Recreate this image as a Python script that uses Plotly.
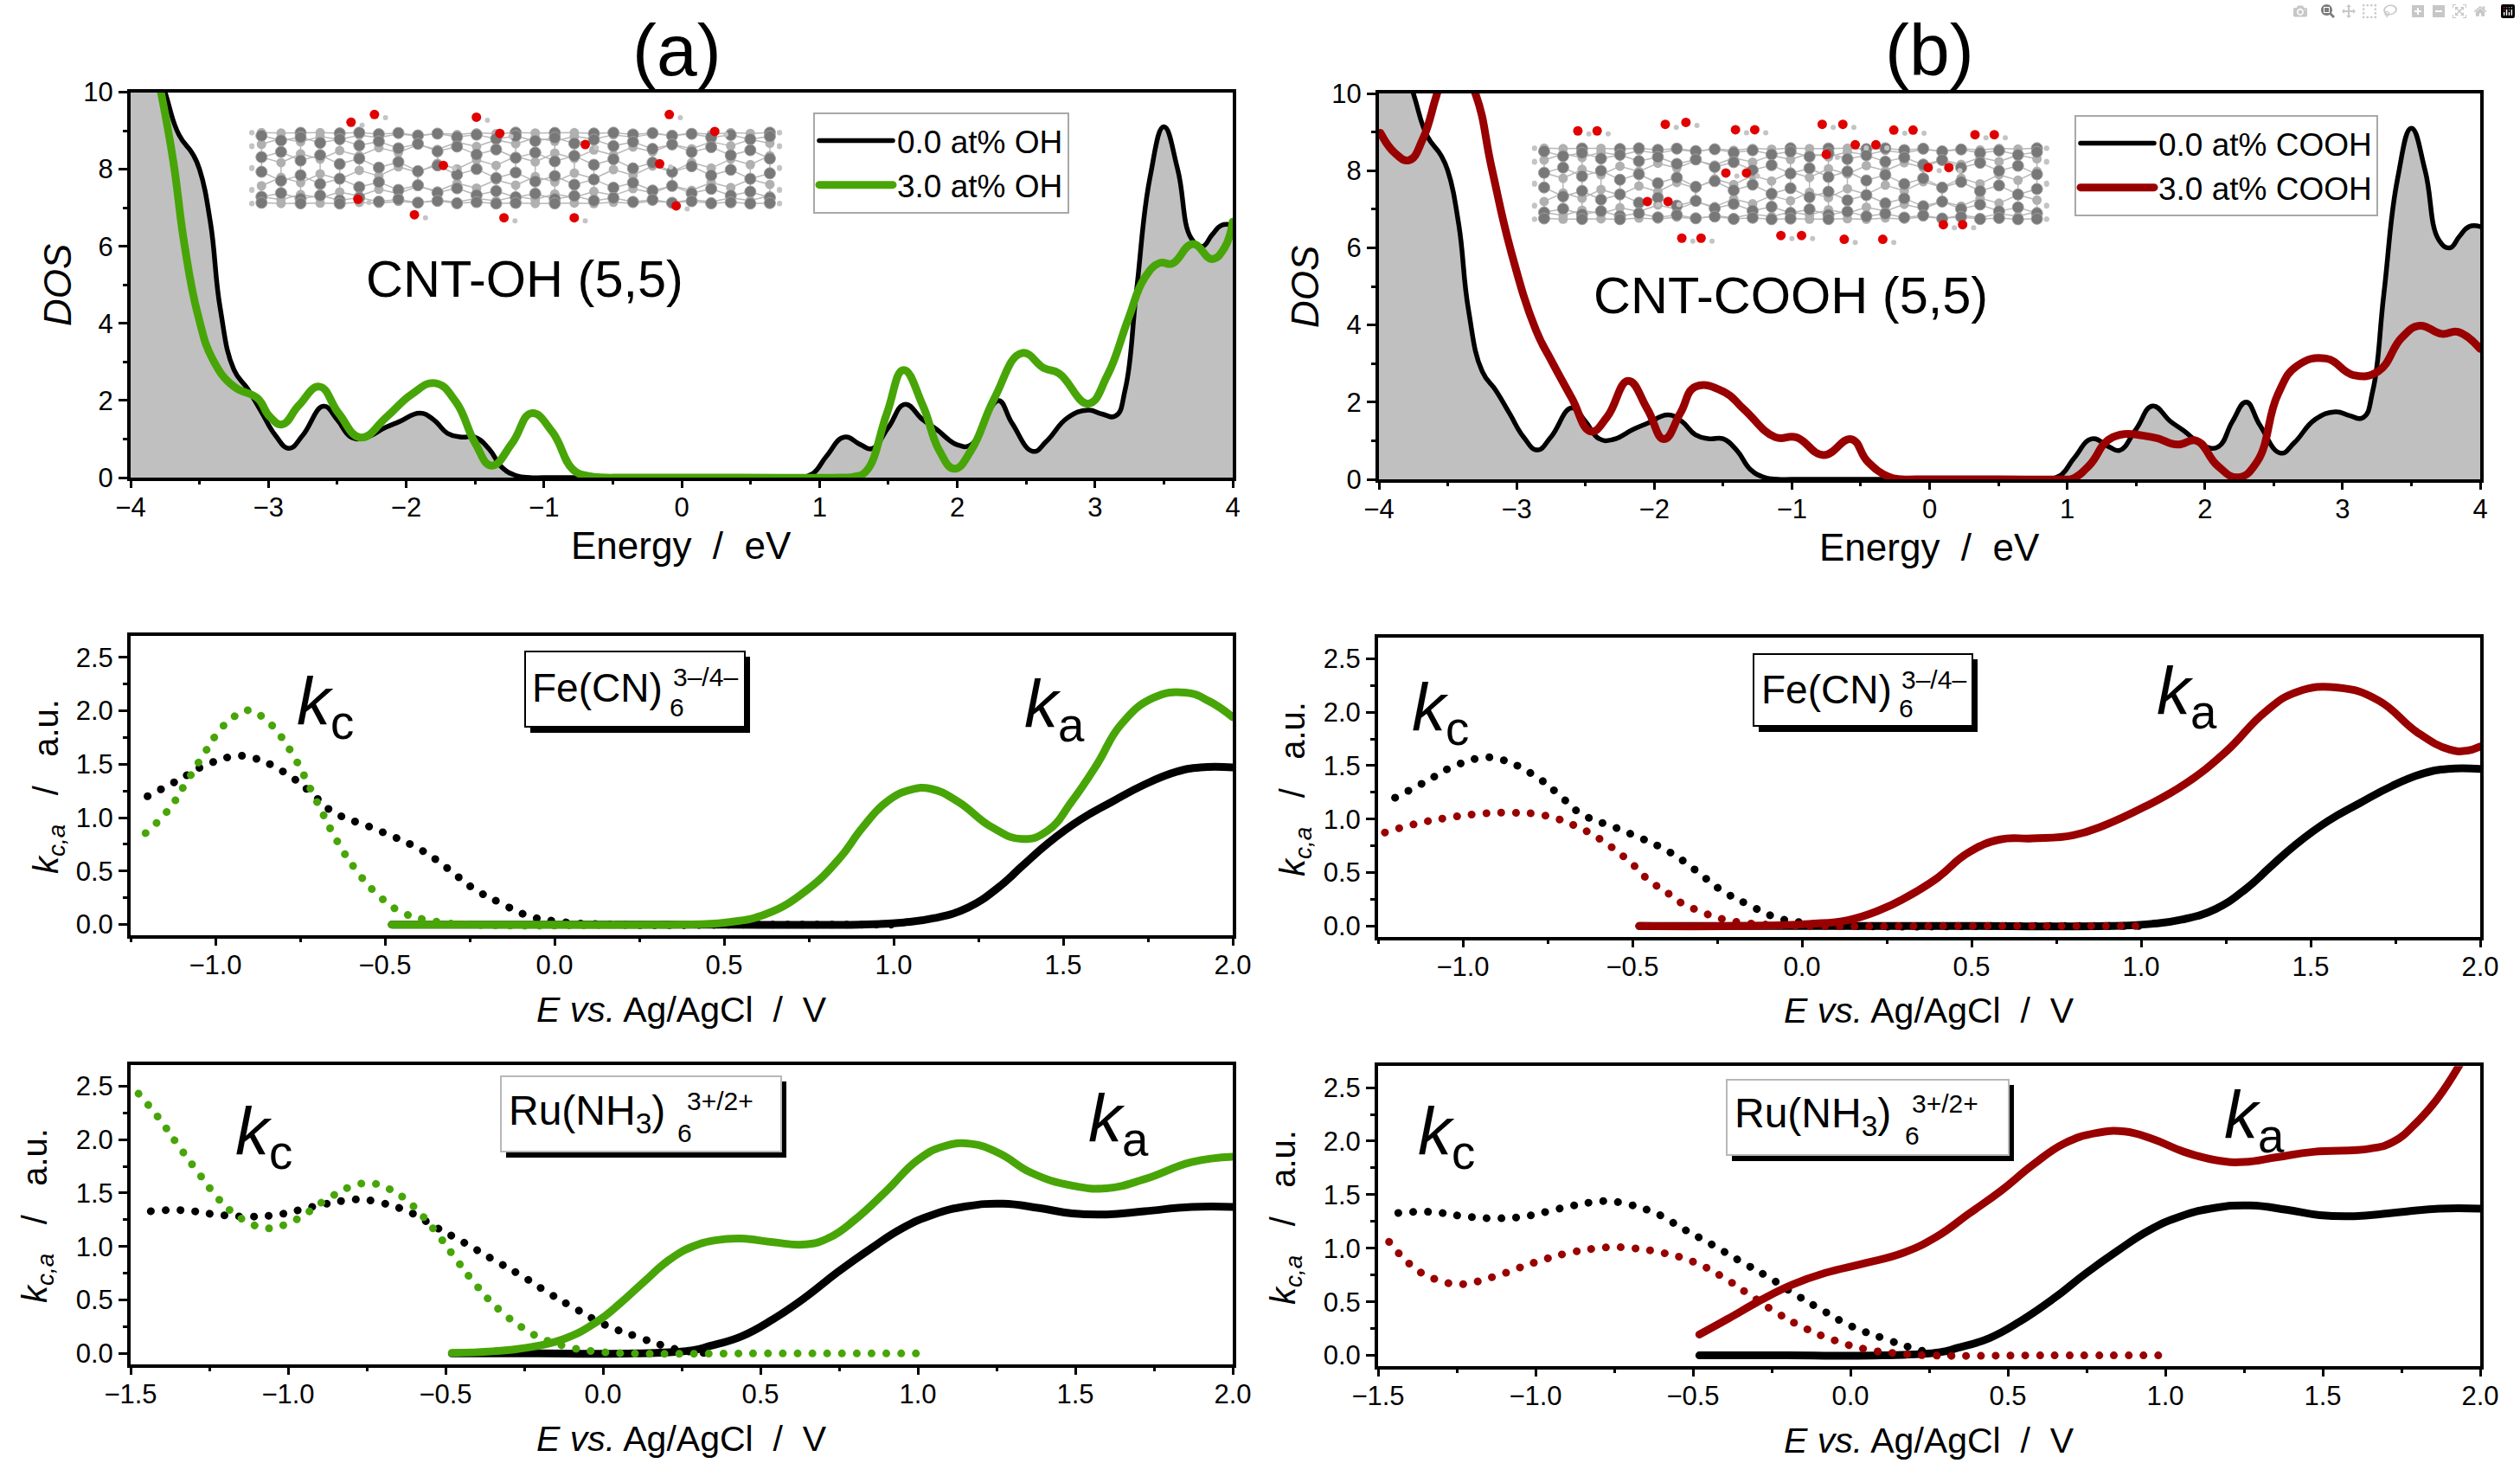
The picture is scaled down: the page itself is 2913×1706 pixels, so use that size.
import numpy as np
import plotly.graph_objects as go
from plotly.subplots import make_subplots

W, H = 2913, 1706
FONT = "Liberation Sans"
GREEN = "#48a508"
RED = "#990000"
GRAY = "#c0c0c0"

# DOS of the pristine tube, same in both columns
dos_e = [-4.0, -3.75, -3.65, -3.55, -3.5, -3.42, -3.35, -3.25, -3.15, -3.05, -2.95, -2.85, -2.75, -2.6, -2.5, -2.4, -2.3, -2.15, -2.05, -1.9, -1.8, -1.7, -1.6, -1.5, -1.4, -1.3, -1.2, -1.1, -1.0, -0.5, 0.2, 0.75, 0.85, 0.95, 1.05, 1.18, 1.3, 1.38, 1.5, 1.62, 1.75, 1.85, 2.0, 2.1, 2.2, 2.3, 2.4, 2.55, 2.65, 2.8, 2.95, 3.05, 3.15, 3.22, 3.3, 3.4, 3.5, 3.6, 3.7, 3.78, 3.85, 3.92, 4.0]
dos_black = [13.0, 10.0, 8.9, 8.4, 8.0, 6.6, 4.4, 2.8, 2.3, 1.7, 1.1, 0.76, 1.1, 1.85, 1.5, 1.05, 1.03, 1.3, 1.45, 1.67, 1.5, 1.15, 1.05, 1.05, 0.75, 0.25, 0.05, 0.0, 0.0, 0.0, 0.0, 0.0, 0.0, 0.1, 0.55, 1.05, 0.85, 0.75, 1.3, 1.9, 1.5, 1.25, 0.85, 0.85, 1.5, 2.0, 1.4, 0.68, 0.95, 1.55, 1.75, 1.65, 1.6, 2.3, 4.8, 7.8, 9.1, 8.0, 6.2, 6.0, 6.3, 6.55, 6.55]

dos_oh_e = [-3.78, -3.69, -3.61, -3.51, -3.4, -3.25, -3.08, -2.99, -2.9, -2.78, -2.63, -2.49, -2.33, -2.14, -1.96, -1.79, -1.64, -1.5, -1.38, -1.23, -1.09, -0.94, -0.79, -0.68, -0.55, -0.44, 0.4, 1.15, 1.25, 1.34, 1.49, 1.61, 1.75, 1.87, 1.98, 2.1, 2.27, 2.47, 2.63, 2.74, 2.95, 3.09, 3.24, 3.36, 3.47, 3.56, 3.71, 3.85, 3.94, 4.0]
dos_oh = [10.0, 8.2, 6.06, 4.2, 3.04, 2.36, 2.06, 1.58, 1.38, 1.87, 2.36, 1.67, 1.04, 1.58, 2.16, 2.45, 1.97, 0.9, 0.31, 0.9, 1.67, 1.19, 0.21, 0.04, 0.0, 0.0, 0.0, 0.0, 0.02, 0.17, 1.67, 2.79, 1.87, 0.7, 0.23, 0.7, 2.06, 3.23, 2.84, 2.7, 1.92, 2.65, 4.1, 5.18, 5.57, 5.55, 6.06, 5.67, 5.96, 6.64]

dos_cooh_e = [-3.99, -3.88, -3.78, -3.68, -3.59, -3.55, -3.45, -3.3, -3.18, -3.04, -2.86, -2.75, -2.6, -2.46, -2.34, -2.19, -2.05, -1.93, -1.81, -1.7, -1.49, -1.35, -1.12, -0.97, -0.77, -0.57, -0.45, -0.3, -0.2, -0.1, 0.5, 0.95, 1.04, 1.16, 1.33, 1.62, 1.8, 1.94, 2.09, 2.24, 2.38, 2.53, 2.67, 2.88, 3.08, 3.26, 3.43, 3.56, 3.72, 3.84, 4.0]
dos_cooh = [8.98, 8.44, 8.27, 8.83, 9.85, 10.3, 11.0, 10.0, 8.05, 5.9, 3.87, 3.09, 2.11, 1.24, 1.63, 2.55, 1.82, 1.04, 1.72, 2.4, 2.26, 1.82, 1.09, 1.09, 0.63, 1.04, 0.46, 0.07, 0.0, 0.0, 0.0, 0.0, 0.02, 0.36, 1.09, 1.09, 0.9, 1.0, 0.36, 0.05, 0.46, 2.2, 2.94, 3.13, 2.7, 2.8, 3.67, 3.98, 3.77, 3.82, 3.38]

# Fe(CN)6 row
fe_kc_black_v = [-1.2, -1.11, -1.03, -0.94, -0.89, -0.8, -0.72, -0.656, -0.526, -0.395, -0.317, -0.24, -0.158, -0.075, 0.008, 0.17, 0.6, 1.03]
fe_kc_black = [1.2, 1.35, 1.49, 1.575, 1.56, 1.43, 1.24, 1.06, 0.89, 0.7, 0.53, 0.34, 0.2, 0.08, 0.03, 0.0, 0.0, 0.0]
fe_ka_black_v = [-0.48, 0.1, 0.5, 0.9, 1.03, 1.12, 1.22, 1.31, 1.38, 1.455, 1.55, 1.645, 1.74, 1.835, 1.905, 2.0]
fe_ka_black = [0.0, 0.0, 0.0, 0.0, 0.02, 0.06, 0.16, 0.35, 0.55, 0.76, 0.98, 1.15, 1.31, 1.43, 1.47, 1.47]

fe_kc_oh_v = [-1.206, -1.138, -1.088, -1.036, -0.983, -0.945, -0.905, -0.858, -0.822, -0.77, -0.704, -0.64, -0.585, -0.523, -0.45, -0.36, -0.25, 0.2]
fe_kc_oh = [0.855, 1.075, 1.32, 1.585, 1.835, 1.945, 2.005, 1.935, 1.82, 1.58, 1.17, 0.775, 0.51, 0.285, 0.115, 0.035, 0.0, 0.0]
fe_ka_oh_v = [-0.48, 0.0, 0.35, 0.506, 0.625, 0.743, 0.838, 0.909, 0.98, 1.05, 1.11, 1.19, 1.29, 1.38, 1.455, 1.525, 1.6, 1.67, 1.765, 1.86, 1.93, 2.0]
fe_ka_oh = [0.0, 0.0, 0.0, 0.02, 0.1, 0.32, 0.61, 0.91, 1.15, 1.26, 1.27, 1.15, 0.91, 0.8, 0.88, 1.15, 1.5, 1.87, 2.12, 2.17, 2.09, 1.94]

fe_kc_cooh_v = [-1.23, -1.14, -1.05, -0.95, -0.86, -0.76, -0.67, -0.62, -0.58, -0.54, -0.5, -0.47, -0.435, -0.39, -0.355, -0.31, -0.265, -0.22, -0.17, -0.08, 0.06, 0.5, 1.02]
fe_kc_cooh = [0.875, 0.955, 1.01, 1.05, 1.06, 1.035, 0.94, 0.86, 0.78, 0.685, 0.58, 0.48, 0.39, 0.295, 0.215, 0.15, 0.095, 0.055, 0.03, 0.01, 0.0, 0.0, 0.0]
fe_ka_cooh_v = [-0.48, -0.2, 0.02, 0.135, 0.23, 0.3, 0.395, 0.49, 0.585, 0.68, 0.8, 0.89, 1.01, 1.13, 1.25, 1.365, 1.46, 1.58, 1.7, 1.815, 1.91, 1.96, 2.0]
fe_ka_cooh = [0.0, 0.0, 0.02, 0.055, 0.15, 0.255, 0.44, 0.685, 0.81, 0.82, 0.85, 0.94, 1.115, 1.33, 1.63, 2.0, 2.19, 2.23, 2.11, 1.81, 1.65, 1.64, 1.68]

# Ru(NH3)6 row
ru_kc_black_v = [-1.436, -1.334, -1.23, -1.13, -1.03, -0.925, -0.82, -0.77, -0.72, -0.62, -0.57, -0.53, -0.44, -0.35, -0.26, -0.175, -0.085, 0.005, 0.105, 0.195, 0.25, 0.335]
ru_kc_black = [1.33, 1.34, 1.3, 1.28, 1.3, 1.37, 1.43, 1.44, 1.42, 1.33, 1.25, 1.18, 1.035, 0.88, 0.73, 0.57, 0.415, 0.27, 0.16, 0.07, 0.03, 0.0]
ru_ka_black_v = [-0.48, -0.2, 0.1, 0.285, 0.34, 0.44, 0.54, 0.645, 0.745, 0.85, 0.95, 1.05, 1.155, 1.27, 1.385, 1.49, 1.6, 1.72, 1.87, 2.0]
ru_ka_black = [0.0, 0.0, 0.0, 0.03, 0.07, 0.16, 0.32, 0.53, 0.76, 0.98, 1.17, 1.3, 1.376, 1.4, 1.36, 1.31, 1.3, 1.33, 1.37, 1.37]

ru_kc_oh_v = [-1.475, -1.41, -1.35, -1.29, -1.225, -1.185, -1.145, -1.105, -1.06, -1.005, -0.955, -0.87, -0.78, -0.73, -0.68, -0.63, -0.59, -0.525, -0.465, -0.4, -0.33, -0.25, -0.205, -0.11, -0.01, 0.09, 0.5, 1.02]
ru_kc_oh = [2.43, 2.2, 1.95, 1.71, 1.46, 1.34, 1.255, 1.196, 1.17, 1.21, 1.285, 1.455, 1.58, 1.59, 1.54, 1.45, 1.34, 1.115, 0.875, 0.63, 0.41, 0.23, 0.155, 0.06, 0.015, 0.0, 0.0, 0.0]
ru_ka_oh_v = [-0.48, -0.35, -0.25, -0.125, -0.02, 0.055, 0.13, 0.21, 0.285, 0.36, 0.44, 0.54, 0.645, 0.72, 0.8, 0.9, 1.0, 1.08, 1.17, 1.26, 1.36, 1.49, 1.6, 1.72, 1.87, 2.0]
ru_ka_oh = [0.005, 0.02, 0.05, 0.135, 0.295, 0.47, 0.67, 0.875, 1.0, 1.06, 1.075, 1.04, 1.02, 1.085, 1.25, 1.52, 1.81, 1.935, 1.96, 1.87, 1.69, 1.57, 1.545, 1.63, 1.79, 1.84]

ru_kc_cooh_v = [-1.465, -1.43, -1.39, -1.35, -1.305, -1.255, -1.2, -1.15, -1.105, -1.055, -1.005, -0.905, -0.805, -0.755, -0.705, -0.6, -0.5, -0.41, -0.32, -0.235, -0.145, -0.05, 0.045, 0.145, 0.25, 0.6, 1.02]
ru_kc_cooh = [1.06, 0.94, 0.83, 0.75, 0.7, 0.665, 0.68, 0.72, 0.76, 0.815, 0.865, 0.95, 1.0, 1.01, 1.005, 0.96, 0.875, 0.74, 0.565, 0.4, 0.255, 0.14, 0.06, 0.02, 0.0, 0.0, 0.0]
ru_ka_cooh_v = [-0.48, -0.39, -0.285, -0.185, -0.08, 0.045, 0.17, 0.275, 0.375, 0.48, 0.58, 0.68, 0.78, 0.87, 0.96, 1.06, 1.165, 1.25, 1.355, 1.47, 1.65, 1.725, 1.8, 1.865, 1.93, 1.955]
ru_ka_cooh = [0.195, 0.34, 0.515, 0.66, 0.77, 0.86, 0.96, 1.11, 1.32, 1.54, 1.78, 1.98, 2.075, 2.09, 2.02, 1.9, 1.82, 1.805, 1.85, 1.9, 1.93, 1.995, 2.18, 2.4, 2.69, 2.83]

# oxygen atoms of the two tube sketches, in the units of the DOS axes
oh_red_x = [-2.40, -2.23, -1.49, -0.09, -1.32, 0.24, -0.70, -1.73, -0.16, -2.35, -1.94, -1.29, -0.78, -0.04]
oh_red_y = [9.22, 9.42, 9.35, 9.42, 8.93, 8.98, 8.64, 8.10, 8.14, 7.22, 6.82, 6.74, 6.74, 7.05]
cooh_red_x = [-2.555, -2.415, -1.92, -1.77, -1.41, -1.27, -0.78, -0.63, -0.26, -0.12, 0.33, 0.47, -0.54, -0.39, -0.75, -1.48, -1.33, -0.01, 0.14, -2.05, -1.90, 0.10, 0.24, -1.80, -1.66, -1.08, -0.93, -0.62, -0.34]
cooh_red_y = [9.03, 9.03, 9.2, 9.25, 9.06, 9.06, 9.2, 9.2, 9.05, 9.05, 8.93, 8.93, 8.67, 8.67, 8.42, 7.94, 7.94, 8.08, 8.08, 7.2, 7.2, 6.6, 6.6, 6.25, 6.25, 6.32, 6.32, 6.22, 6.22]


def px(x):
    return x / W


def py(y):
    return 1 - y / H


# panel boxes in pixels: left, right, top, bottom
panels = {
    (1, 1): (151, 1425, 106.5, 552),
    (1, 2): (1594, 2867, 108, 554),
    (2, 1): (151, 1425, 735, 1081),
    (2, 2): (1593, 2867, 736.7, 1082.7),
    (3, 1): (151, 1425, 1230.7, 1576.7),
    (3, 2): (1593, 2867, 1232.3, 1579),
}

fig = make_subplots(rows=3, cols=2)


def curve(x, y, color, row, col, width=9, dotted=False, name=None, legend=None):
    line = dict(color=color, width=width, shape="spline", smoothing=1.3)
    if dotted:
        line["dash"] = "0.1px,17px"
    fig.add_trace(go.Scatter(x=x, y=y, mode="lines", line=line, name=name,
                             showlegend=name is not None, legend=legend), row=row, col=col)


def tube(x0, x1, yc, yr, red_x, red_y, col):
    # rough (5,5) nanotube with a slight twist: two rings per cell, atoms and bonds
    n_col = 27
    zs = np.linspace(x0, x1, n_col)

    def atom(k, j, s):
        theta = 2 * np.pi * (j + s / 4.26) / 5 + 0.05 * k
        return zs[k], yc + yr * np.cos(theta), np.sin(theta)

    bond_x, bond_y, back_x, back_y, front_x, front_y = [], [], [], [], [], []
    for k in range(n_col):
        ring = [0.0, 1.42] if k % 2 == 0 else [2.13, 3.55]
        for j in range(5):
            a = atom(k, j, ring[0])
            b = atom(k, j, ring[1])
            bond_x += [a[0], b[0], None]
            bond_y += [a[1], b[1], None]
            if k + 1 < n_col:
                if k % 2 == 0:
                    pairs = [(b, atom(k + 1, j, 2.13)), (a, atom(k + 1, j - 1, 3.55))]
                else:
                    pairs = [(b, atom(k + 1, j + 1, 0.0)), (a, atom(k + 1, j, 1.42))]
                for p, q in pairs:
                    bond_x += [p[0], q[0], None]
                    bond_y += [p[1], q[1], None]
            for p in (a, b):
                if p[2] > 0:
                    front_x.append(p[0])
                    front_y.append(p[1])
                else:
                    back_x.append(p[0])
                    back_y.append(p[1])
    # small hydrogens on the open ends and next to the oxygens
    h_x, h_y = [], []
    for j in range(10):
        y_h = yc + 1.05 * yr * np.cos(2 * np.pi * j / 10 + 0.3)
        h_x += [x0 - 0.07, x1 + 0.07]
        h_y += [y_h, y_h]
    h_x += [x + 0.08 for x in red_x]
    h_y += [y - 0.08 for y in red_y]
    fig.add_trace(go.Scatter(x=bond_x, y=bond_y, mode="lines", showlegend=False,
                             line=dict(color="#b8b8b8", width=1.5)), row=1, col=col)
    fig.add_trace(go.Scatter(x=back_x, y=back_y, mode="markers", showlegend=False,
                             marker=dict(color="#b0b0b0", size=11)), row=1, col=col)
    fig.add_trace(go.Scatter(x=front_x, y=front_y, mode="markers", showlegend=False,
                             marker=dict(color="#787878", size=13, line=dict(color="#a0a0a0", width=1))), row=1, col=col)
    fig.add_trace(go.Scatter(x=h_x, y=h_y, mode="markers", showlegend=False,
                             marker=dict(color="#c4c4c4", size=6)), row=1, col=col)
    fig.add_trace(go.Scatter(x=red_x, y=red_y, mode="markers", showlegend=False,
                             marker=dict(color="#e00000", size=11)), row=1, col=col)


# DOS panels
for col in (1, 2):
    fig.add_trace(go.Scatter(x=dos_e, y=dos_black, mode="lines", fill="tozeroy", fillcolor=GRAY, showlegend=False,
                             line=dict(color=GRAY, width=0, shape="spline", smoothing=1.3)), row=1, col=col)

tube(-3.05, 0.64, 8.03, 0.92, oh_red_x, oh_red_y, 1)
tube(-2.8, 0.78, 7.66, 0.92, cooh_red_x, cooh_red_y, 2)

curve(dos_e, dos_black, "black", 1, 1, width=5.5, name="0.0 at% OH", legend="legend")
curve(dos_oh_e, dos_oh, GREEN, 1, 1, width=9, name="3.0 at% OH", legend="legend")
curve(dos_e, dos_black, "black", 1, 2, width=5.5, name="0.0 at% COOH", legend="legend2")
curve(dos_cooh_e, dos_cooh, RED, 1, 2, width=9, name="3.0 at% COOH", legend="legend2")

# k panels
rows = [
    (2, 1, GREEN, fe_kc_black_v, fe_kc_black, fe_ka_black_v, fe_ka_black, fe_kc_oh_v, fe_kc_oh, fe_ka_oh_v, fe_ka_oh),
    (2, 2, RED, fe_kc_black_v, fe_kc_black, fe_ka_black_v, fe_ka_black, fe_kc_cooh_v, fe_kc_cooh, fe_ka_cooh_v, fe_ka_cooh),
    (3, 1, GREEN, ru_kc_black_v, ru_kc_black, ru_ka_black_v, ru_ka_black, ru_kc_oh_v, ru_kc_oh, ru_ka_oh_v, ru_ka_oh),
    (3, 2, RED, ru_kc_black_v, ru_kc_black, ru_ka_black_v, ru_ka_black, ru_kc_cooh_v, ru_kc_cooh, ru_ka_cooh_v, ru_ka_cooh),
]
for r, c, color, kc0_v, kc0, ka0_v, ka0, kc_v, kc, ka_v, ka in rows:
    curve(ka0_v, ka0, "black", r, c)
    curve(kc0_v, kc0, "black", r, c, dotted=True)
    curve(ka_v, ka, color, r, c)
    curve(kc_v, kc, color, r, c, dotted=True)

tick_font = dict(family=FONT, size=31, color="black")
axis_style = dict(showline=True, mirror=True, linecolor="black", linewidth=4, showgrid=False, zeroline=False,
                  ticks="outside", tickwidth=3, tickcolor="black", tickfont=tick_font)

for (r, c), (l, rr, t, b) in panels.items():
    if r == 1:
        xr, xd, yr, yd = [-4, 4], 1, [0, 10], 2
    elif r == 2:
        xr, xd, yr, yd = [-1.25, 2], 0.5, [-0.1, 2.7], 0.5
    else:
        xr, xd, yr, yd = [-1.5, 2], 0.5, [-0.1, 2.7], 0.5
    fig.update_xaxes(domain=[px(l), px(rr)], range=xr, tick0=0, dtick=xd, tickformat="d" if r == 1 else ".1f",
                     ticklen=8, ticklabelstandoff=-4,
                     minor=dict(ticks="outside", ticklen=4, tickwidth=3, tickcolor="black", tick0=0, dtick=xd / 2),
                     row=r, col=c, **axis_style)
    fig.update_yaxes(domain=[py(b), py(t)], range=yr, tick0=0, dtick=yd, tickformat="d" if r == 1 else ".1f",
                     ticklen=10,
                     minor=dict(ticks="outside", ticklen=5, tickwidth=3, tickcolor="black", tick0=0, dtick=yd / 2),
                     row=r, col=c, **axis_style)

notes = []


def note(text, x, y, size, angle=0, xanchor="center"):
    notes.append(dict(text=text, x=px(x), y=py(y), xref="paper", yref="paper", showarrow=False, textangle=angle,
                      xanchor=xanchor, yanchor="middle", font=dict(family=FONT, size=size, color="black")))


note("(a)", 782, 58, 84)
note("(b)", 2230, 58, 84)
note("CNT-OH (5,5)", 606, 322, 59.5)
note("CNT-COOH (5,5)", 2070, 341, 59.5)
note("Energy  /  eV", 788, 631, 44)
note("Energy  /  eV", 2230, 633, 44)
note("<i>DOS</i>", 66, 330, 44, angle=-90)
note("<i>DOS</i>", 1509, 332, 44, angle=-90)

for x_c, y_c in [(788, 1167), (2230, 1168), (788, 1663), (2230, 1665)]:
    note("<i>E vs.</i> Ag/AgCl  /  V", x_c, y_c, 41)
kca = "<i>k</i><sub><i>c,a</i></sub>   /   a.u."
for x_c, y_c in [(56, 909), (1497, 912), (43, 1405), (1486, 1407)]:
    note(kca, x_c, y_c, 40, angle=-90)

k_labels = [("c", 376, 816), ("a", 1219, 819), ("c", 1665, 823), ("a", 2528, 804),
            ("c", 305, 1313), ("a", 1293, 1298), ("c", 1672, 1313), ("a", 2606, 1294)]
for sub, x_c, y_c in k_labels:
    note(f"<i>k</i><sub>{sub}</sub>", x_c, y_c, 78)

# redox couple boxes: left, right, top, bottom, edge colour
boxes = [(607, 861, 753, 840, "black"), (2027, 2280, 756, 839, "black"),
         (579, 903, 1244, 1331, "#b8b8b8"), (1996, 2322, 1248, 1335, "#b8b8b8")]
shapes = []
for l, rr, t, b, edge in boxes:
    shapes.append(dict(type="rect", xref="paper", yref="paper", x0=px(l + 6), x1=px(rr + 6), y0=py(t + 6), y1=py(b + 7),
                       fillcolor="black", line=dict(width=0), layer="above"))
    shapes.append(dict(type="rect", xref="paper", yref="paper", x0=px(l), x1=px(rr), y0=py(t), y1=py(b),
                       fillcolor="white", line=dict(color=edge, width=2), layer="above"))

fe_text = "Fe(CN)"
ru_text = "Ru(NH<sub>3</sub>)"
note(fe_text, 613, 795, 46, xanchor="left")
note("6", 782, 817, 30)
note("3–/4–", 815, 782, 30)
note(fe_text, 2034, 797, 46, xanchor="left")
note("6", 2203, 818, 30)
note("3–/4–", 2235, 785, 30)
note(ru_text, 586, 1287, 48, xanchor="left")
note("6", 792, 1309, 30)
note("3+/2+", 832, 1272, 30)
note(ru_text, 2003, 1290, 48, xanchor="left")
note("6", 2210, 1312, 30)
note("3+/2+", 2248, 1275, 30)

legend_style = dict(bgcolor="white", bordercolor="#a8a8a8", borderwidth=2, xanchor="left", yanchor="top",
                    itemwidth=85, font=dict(family=FONT, size=37, color="black"), tracegroupgap=0)

fig.update_layout(
    width=W, height=H, autosize=False, margin=dict(l=0, r=0, t=0, b=0, autoexpand=False),
    paper_bgcolor="white", plot_bgcolor="white",
    font=dict(family=FONT, color="black"),
    annotations=notes, shapes=shapes,
    legend=dict(x=px(940), y=py(130), **legend_style),
    legend2=dict(x=px(2398), y=py(133), **legend_style),
)

# page without body margin, round caps turn the dashes into dots
post = ("document.body.style.margin='0';"
        "document.querySelectorAll('.js-line').forEach(function(p){p.style.strokeLinecap='round';});")
fig.write_html("out.html", post_script=post)
